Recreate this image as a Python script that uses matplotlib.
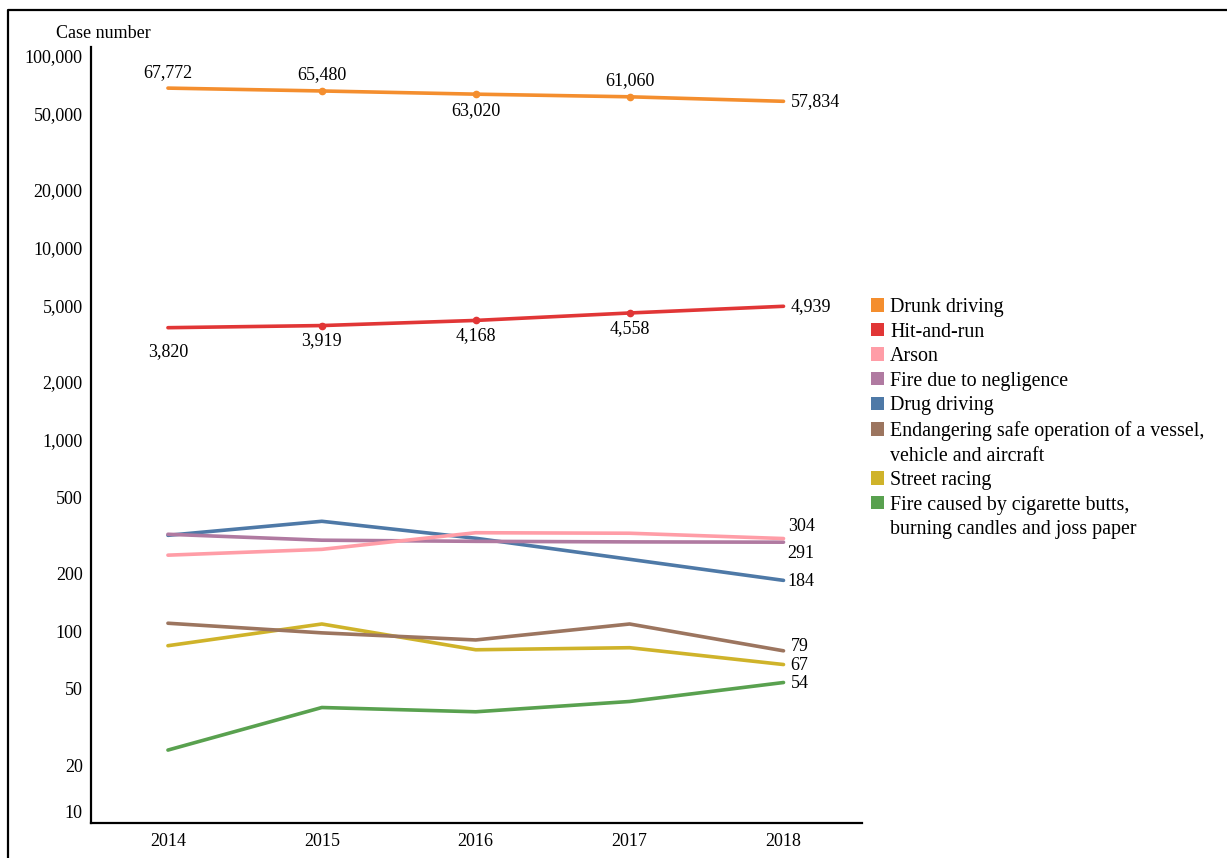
import numpy as np
import matplotlib
matplotlib.use("Agg")
import matplotlib.pyplot as plt
from matplotlib.patches import Patch
from matplotlib.transforms import ScaledTranslation
from matplotlib.ticker import FixedLocator, FuncFormatter, NullLocator

plt.rcParams['font.family'] = ['Liberation Serif', 'DejaVu Serif']

# Case numbers per offence, 2014-2018
years = [2014, 2015, 2016, 2017, 2018]
drunk_driving = [67772, 65480, 63020, 61060, 57834]
hit_and_run = [3820, 3919, 4168, 4558, 4939]
arson = [249, 267, 326, 324, 304]
fire_negligence = [320, 298, 294, 292, 291]
drug_driving = [316, 374, 305, 237, 184]
endangering = [110, 98, 90, 109, 79]
street_racing = [84, 109, 80, 82, 67]
fire_cigarette = [24, 40, 38, 43, 54]

names = ["Drunk driving", "Hit-and-run", "Arson", "Fire due to negligence",
         "Drug driving",
         "Endangering safe operation of a vessel,\nvehicle and aircraft",
         "Street racing",
         "Fire caused by cigarette butts,\nburning candles and joss paper"]
series = [drunk_driving, hit_and_run, arson, fire_negligence, drug_driving,
          endangering, street_racing, fire_cigarette]
colors = ["#F48E2E", "#E13636", "#FF9DA7", "#B07AA1", "#4E79A7",
          "#9C755F", "#CFB32A", "#59A14F"]

yticks = [10, 20, 50, 100, 200, 500, 1000, 2000, 5000, 10000, 20000, 50000, 100000]

fs = 13

fig = plt.figure(figsize=(12.27, 8.58), dpi=100)
ax = fig.add_axes([91 / 1227, 1 - 823 / 858, (862 - 91) / 1227, (823 - 47) / 858])

# plot bottom-up so the upper series sit on top
for vals, col in reversed(list(zip(series, colors))):
    ax.plot(years, vals, color=col, lw=2.6, solid_capstyle='round', zorder=2)

# small dots on the two top series
for vals, col in zip(series[:2], colors[:2]):
    ax.plot(years[1:4], vals[1:4], 'o', color=col, ms=4.5, zorder=3)

ax.set_yscale('log')
ax.set_ylim(10, 111000)
ax.set_xlim(2013.5, 2018.51)
ax.yaxis.set_major_locator(FixedLocator(yticks))
ax.yaxis.set_minor_locator(NullLocator())
ax.yaxis.set_major_formatter(FuncFormatter(lambda v, p: f"{int(v):,}"))
ax.set_xticks(years)
ax.tick_params(axis='both', length=0, labelsize=fs)
ax.tick_params(axis='y', pad=6)
ax.tick_params(axis='x', pad=7)

for side in ['top', 'right']:
    ax.spines[side].set_visible(False)
for side in ['left', 'bottom']:
    ax.spines[side].set_linewidth(1.6)

# lift the lowest tick label off the bottom spine
fig.canvas.draw()
for lab in ax.get_yticklabels():
    if lab.get_text() == '10':
        lab.set_transform(lab.get_transform() + ScaledTranslation(0, 11 / 100, fig.dpi_scale_trans))

fig.text(56 / 1227, 1 - 33 / 858, "Case number", fontsize=fs, va='center', ha='left')

# drunk driving labels
dd_off = [(0, 11.5), (0, 11.5), (0, -11.5), (0, 12), None]
for x, v, off in zip(years, drunk_driving, dd_off):
    if off is None:
        ax.annotate(f"{v:,}", (x, v), xytext=(5, 0), textcoords='offset points',
                    ha='left', va='center', fontsize=fs)
    else:
        ax.annotate(f"{v:,}", (x, v), xytext=off, textcoords='offset points',
                    ha='center', va='center', fontsize=fs)

# hit-and-run labels
for x, v, dy in zip(years[:4], hit_and_run[:4], [-17, -11, -11, -11.5]):
    ax.annotate(f"{v:,}", (x, v), xytext=(0, dy), textcoords='offset points',
                ha='center', va='center', fontsize=fs)
ax.annotate(f"{hit_and_run[-1]:,}", (years[-1], hit_and_run[-1]), xytext=(5, 0),
            textcoords='offset points', ha='left', va='center', fontsize=fs)

# end labels for the lower series
end_offsets = [(arson, (3, 9)), (fire_negligence, (3, -8.5)), (drug_driving, (3, -1)),
               (endangering, (5, 3)), (street_racing, (5, -0.5)), (fire_cigarette, (5, -0.5))]
for vals, (dx, dy) in end_offsets:
    ax.annotate(f"{vals[-1]:,}", (years[-1], vals[-1]), xytext=(dx, dy),
                textcoords='offset points', ha='left', va='center', fontsize=fs)

# legend, two-line names split into a colour row and a blank row
handles, labels = [], []
for name, col in zip(names, colors):
    parts = name.split("\n")
    handles.append(Patch(facecolor=col, edgecolor='none'))
    labels.append(parts[0])
    for extra in parts[1:]:
        handles.append(Patch(facecolor='none', edgecolor='none'))
        labels.append(extra)
fig.legend(handles, labels, loc='upper left', bbox_to_anchor=(871 / 1227, 1 - 298 / 858),
           frameon=False, fontsize=14.4, handlelength=0.65, handleheight=0.65,
           handletextpad=0.3, labelspacing=0.28, borderpad=0, borderaxespad=0)

# outer frame line along the top and left edges
fig.add_artist(plt.Line2D([8 / 1227, 8 / 1227, 1.0], [0.0, 1 - 9.5 / 858, 1 - 9.5 / 858],
                          transform=fig.transFigure, color='black', lw=1.6))

fig.savefig("out.png", dpi=100)
